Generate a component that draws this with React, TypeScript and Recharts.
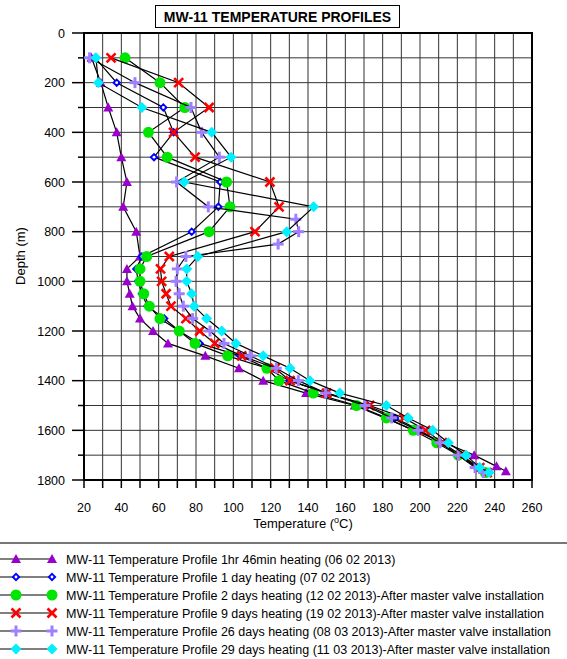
import React from 'react';
import { ScatterChart, Scatter, XAxis, YAxis, CartesianGrid, ReferenceArea } from 'recharts';

// tick values
const tempTicks = [20, 30, 40, 50, 60, 70, 80, 90, 100, 110, 120, 130, 140, 150, 160, 170, 180, 190, 200, 210, 220, 230, 240, 250, 260];
const depthTicks = [0, 100, 200, 300, 400, 500, 600, 700, 800, 900, 1000, 1100, 1200, 1300, 1400, 1500, 1600, 1700, 1800];

// 1hr 46min heating (06 02 2013)
const p1Depth = [100, 200, 300, 400, 500, 600, 700, 800, 900, 950, 1000, 1050, 1100, 1150, 1200, 1250, 1300, 1350, 1400, 1450, 1500, 1700, 1745, 1765];
const p1Temp = [24, 29, 33, 37.5, 40, 43, 41, 48, 50, 43, 43, 44.5, 46, 50, 57, 65, 85, 103, 116, 139, 165, 229, 241, 246];

// 1 day heating (07 02 2013)
const p2Depth = [100, 200, 300, 400, 500, 600, 700, 800, 900, 950, 1000, 1050, 1100, 1150, 1200, 1250, 1300, 1350, 1400, 1450, 1500, 1550, 1600, 1650, 1700, 1750, 1770];
const p2Temp = [26, 37.5, 62.5, 68, 57.5, 93, 92, 77.7, 51, 48, 49, 51, 54, 63, 71, 82, 103.6, 118, 130, 150, 172, 186.6, 200, 211, 221, 231, 235];

// 2 days heating (12 02 2013)
const p3Depth = [100, 200, 300, 400, 500, 600, 700, 800, 900, 950, 1000, 1050, 1100, 1150, 1200, 1250, 1300, 1350, 1400, 1450, 1500, 1550, 1600, 1650, 1700, 1770];
const p3Temp = [42, 60.7, 74, 54.5, 64.6, 96.4, 98.2, 87, 53.6, 50, 50, 52, 55, 60.7, 71, 79.5, 97, 118, 124.5, 142.8, 166, 182, 196.4, 209, 220.5, 235];

// 9 days heating (19 02 2013)
const p4Depth = [100, 200, 300, 400, 500, 600, 700, 800, 900, 950, 1000, 1050, 1100, 1150, 1200, 1250, 1300, 1350, 1400, 1450, 1500, 1550, 1600, 1650, 1700, 1750, 1770];
const p4Temp = [34.5, 70.7, 87, 68, 79.5, 119.6, 124.5, 111.6, 65.7, 61, 61.6, 64, 66.6, 74.6, 82, 90, 104.5, 122.3, 130.4, 150, 173, 191.4, 203, 212, 222, 232, 236];

// 26 days heating (08 03 2013)
const p5Depth = [100, 200, 300, 400, 500, 600, 700, 750, 800, 850, 900, 950, 1000, 1050, 1100, 1150, 1200, 1250, 1300, 1350, 1400, 1450, 1500, 1550, 1600, 1650, 1700, 1750, 1770];
const p5Temp = [23, 47.3, 77.3, 83, 92.5, 69.6, 86.6, 133.5, 135, 124, 74.6, 70, 69.3, 71, 73.2, 78.2, 87.5, 95, 109, 123, 134.8, 149.5, 170.5, 184.8, 199, 210.7, 220.5, 229.5, 234];

// 29 days heating (11 03 2013)
const p6Depth = [100, 200, 300, 400, 500, 600, 700, 800, 900, 950, 1000, 1050, 1100, 1150, 1200, 1250, 1300, 1350, 1400, 1450, 1500, 1550, 1600, 1650, 1700, 1750, 1770];
const p6Temp = [26.4, 27.7, 51, 88.4, 98.8, 73.7, 143, 128.6, 81, 75, 75, 77.7, 79, 85.7, 93.8, 101.4, 116, 130.4, 141, 157, 182, 193.7, 206.8, 215.2, 224.6, 232, 237];

const toPoints = (depth: number[], temp: number[]) => depth.map((d, i) => ({ d, t: temp[i] }));

const FONT = "Arial, 'Liberation Sans', sans-serif";

const Triangle = ({ cx, cy }: any) => (
  <polygon points={`${cx},${cy - 5} ${cx - 5},${cy + 4} ${cx + 5},${cy + 4}`} fill="#9900cc" />
);
const BlueDiamond = ({ cx, cy }: any) => (
  <g>
    <polygon points={`${cx},${cy - 4.5} ${cx + 4.5},${cy} ${cx},${cy + 4.5} ${cx - 4.5},${cy}`} fill="#0000ff" />
    <circle cx={cx} cy={cy} r={1.4} fill="#fff" />
  </g>
);
const GreenDot = ({ cx, cy }: any) => <circle cx={cx} cy={cy} r={5.5} fill="#00e600" />;
const RedCross = ({ cx, cy }: any) => (
  <g stroke="#ff0000" strokeWidth={2.6}>
    <line x1={cx - 4.5} y1={cy - 4.5} x2={cx + 4.5} y2={cy + 4.5} />
    <line x1={cx - 4.5} y1={cy + 4.5} x2={cx + 4.5} y2={cy - 4.5} />
  </g>
);
const PlusMark = ({ cx, cy }: any) => (
  <g stroke="#9f7fff" strokeWidth={3}>
    <line x1={cx - 5.5} y1={cy} x2={cx + 5.5} y2={cy} />
    <line x1={cx} y1={cy - 5.5} x2={cx} y2={cy + 5.5} />
  </g>
);
const CyanDiamond = ({ cx, cy }: any) => (
  <polygon points={`${cx},${cy - 5.5} ${cx + 5.5},${cy} ${cx},${cy + 5.5} ${cx - 5.5},${cy}`} fill="#00f0ff" />
);

const series = [
  { name: 'MW-11 Temperature Profile 1hr 46min heating (06 02 2013)', data: toPoints(p1Depth, p1Temp), Marker: Triangle },
  { name: 'MW-11 Temperature Profile 1 day heating (07 02 2013)', data: toPoints(p2Depth, p2Temp), Marker: BlueDiamond },
  { name: 'MW-11 Temperature Profile 2 days heating (12 02 2013)-After master valve installation', data: toPoints(p3Depth, p3Temp), Marker: GreenDot },
  { name: 'MW-11 Temperature Profile 9 days heating (19 02 2013)-After master valve installation', data: toPoints(p4Depth, p4Temp), Marker: RedCross },
  { name: 'MW-11 Temperature Profile 26 days heating (08 03 2013)-After master valve installation', data: toPoints(p5Depth, p5Temp), Marker: PlusMark },
  { name: 'MW-11 Temperature Profile 29 days heating (11 03 2013)-After master valve installation', data: toPoints(p6Depth, p6Temp), Marker: CyanDiamond },
];

const TempTick = ({ x, y, payload }: any) =>
  payload.value % 20 === 0 ? (
    <text x={x} y={y} dy={22} textAnchor="middle" fontSize={12.5} fontFamily={FONT} fill="#000">
      {payload.value}
    </text>
  ) : (
    <g />
  );

const DepthTick = ({ x, y, payload }: any) => {
  const major = payload.value % 200 === 0;
  const axisX = x + 18;
  return (
    <g>
      <line x1={axisX - (major ? 12 : 6)} y1={y} x2={axisX} y2={y} stroke="#000" strokeWidth={1.5} />
      {major && (
        <text x={x - 1} y={y} dy={4.5} textAnchor="end" fontSize={12.5} fontFamily={FONT} fill="#000">
          {payload.value}
        </text>
      )}
    </g>
  );
};

const App: React.FC = () => {
  return (
    <div style={{ position: 'absolute', left: 0, top: 0, width: 567, height: 659, background: '#fff' }}>
      <ScatterChart width={567} height={659} margin={{ top: 33, right: 35, bottom: 139, left: 0 }}>
        <CartesianGrid stroke="#333" strokeWidth={1} />
        <XAxis
          type="number"
          dataKey="t"
          domain={[20, 260]}
          ticks={tempTicks}
          interval={0}
          height={40}
          tickSize={8}
          tickMargin={2}
          tick={<TempTick />}
          tickLine={{ stroke: '#000', strokeWidth: 1.5 }}
          axisLine={{ stroke: '#000', strokeWidth: 2 }}
        />
        <YAxis
          type="number"
          dataKey="d"
          reversed
          domain={[0, 1800]}
          ticks={depthTicks}
          interval={0}
          width={84}
          tickSize={12}
          tickMargin={6}
          tickLine={false}
          tick={<DepthTick />}
          axisLine={{ stroke: '#000', strokeWidth: 2 }}
        />
        <ReferenceArea x1={20} x2={260} y1={0} y2={1800} fill="none" stroke="#000" strokeWidth={2} ifOverflow="visible" />
        {series.map((s) => (
          <Scatter
            key={s.name}
            name={s.name}
            data={s.data}
            line={{ stroke: '#000', strokeWidth: 1.2 }}
            lineType="joint"
            shape={(p: any) => <s.Marker cx={p.cx} cy={p.cy} />}
            isAnimationActive={false}
          />
        ))}
      </ScatterChart>

      <svg width={567} height={659} style={{ position: 'absolute', left: 0, top: 0, pointerEvents: 'none' }} fontFamily={FONT}>
        <rect x={155.5} y={5.5} width={244} height={22} fill="#fff" stroke="#000" strokeWidth={1} />
        <text x={277.5} y={21.5} textAnchor="middle" fontSize={14} fontWeight="bold" fill="#000">
          MW-11 TEMPERATURE PROFILES
        </text>
        <text x={0} y={0} transform="translate(25,256) rotate(-90)" textAnchor="middle" fontSize={13} fill="#000">
          Depth (m)
        </text>
        <text x={303} y={528} textAnchor="middle" fontSize={13} fill="#000">
          Temperature (<tspan fontSize={9} dy={-5}>o</tspan>
          <tspan dy={5}>C)</tspan>
        </text>
        <line x1={0} y1={543} x2={567} y2={543} stroke="#777" strokeWidth={2} />
        {series.map((s, i) => {
          const y = 559 + i * 18;
          return (
            <g key={s.name}>
              <line x1={0} y1={y} x2={52} y2={y} stroke="#000" strokeWidth={1.2} />
              <s.Marker cx={16} cy={y} />
              <s.Marker cx={52} cy={y} />
              <text x={66} y={y + 4.5} fontSize={12.5} fill="#000">
                {s.name}
              </text>
            </g>
          );
        })}
      </svg>
    </div>
  );
};

export default App;
